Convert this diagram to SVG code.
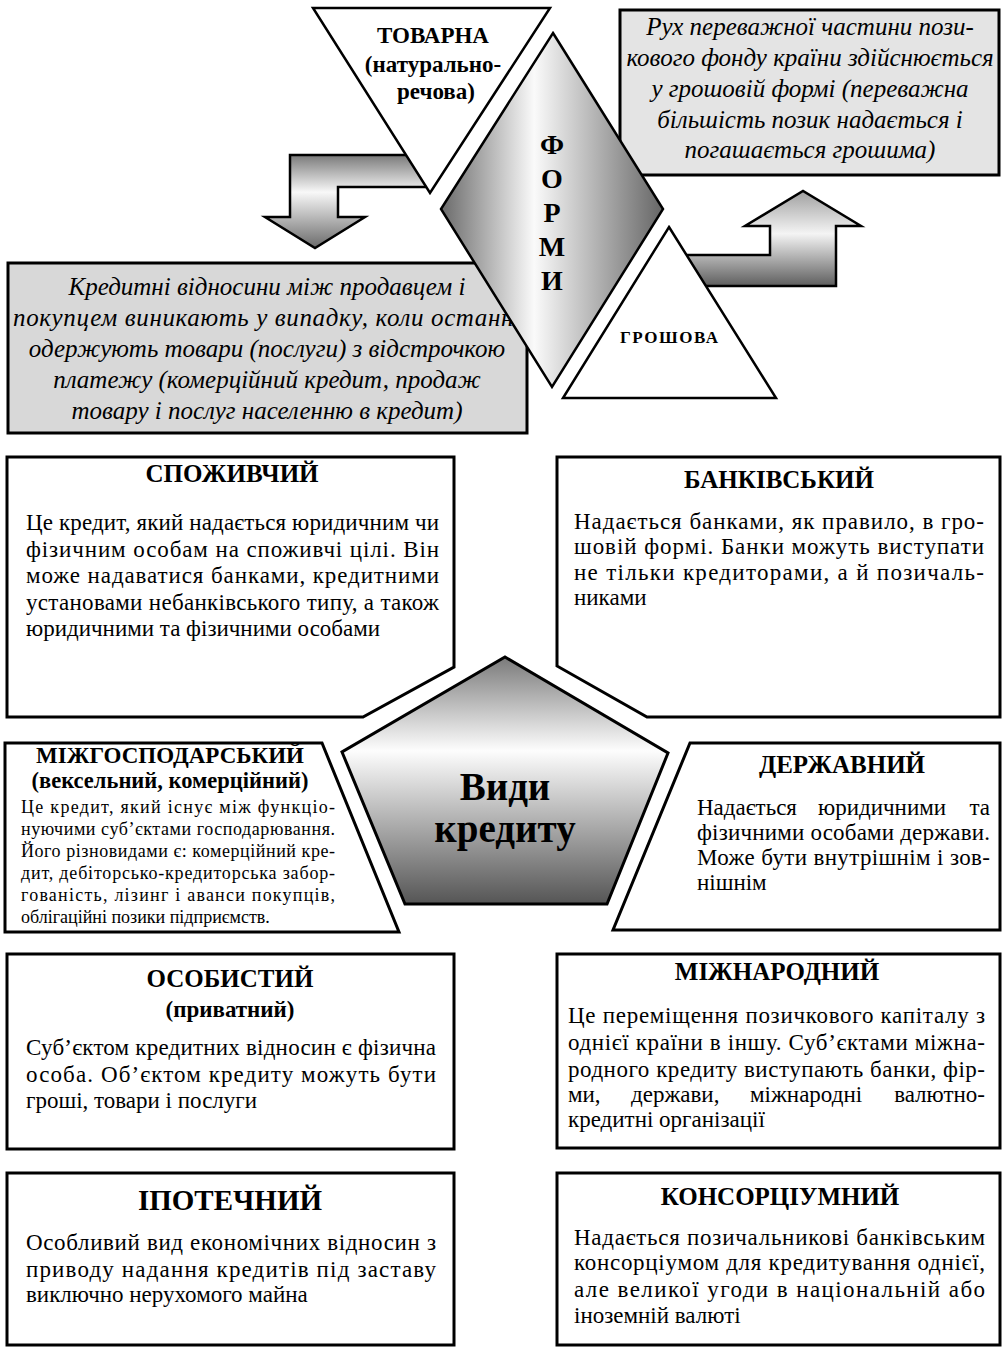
<svg xmlns="http://www.w3.org/2000/svg" width="1002" height="1351" viewBox="0 0 1002 1351">
<style>
text{font-family:"Liberation Serif","DejaVu Serif",serif;fill:#000}
.ttl{font-weight:bold;font-size:25px;text-anchor:middle}
.b{font-size:23px}
.s{font-size:18px}
.it{font-style:italic;font-size:25px;text-anchor:middle}
.box{fill:#fff;stroke:#000;stroke-width:3;stroke-linejoin:miter}
.gbox{stroke:#000;stroke-width:3}
.tri{fill:#fff;stroke:#000;stroke-width:2.5;stroke-linejoin:miter}
.arr{stroke:#000;stroke-width:2.5;stroke-linejoin:miter}
.fl{font-weight:bold;font-size:28px;text-anchor:middle}
</style>
<defs>
<linearGradient id="gDia" x1="0" y1="0" x2="1" y2="0">
<stop offset="0" stop-color="#6a6a6a"/>
<stop offset="0.42" stop-color="#fafafa"/>
<stop offset="1" stop-color="#666"/>
</linearGradient>
<linearGradient id="gArrL" x1="0" y1="0" x2="0" y2="1">
<stop offset="0" stop-color="#7a7a7a"/>
<stop offset="0.4" stop-color="#f8f8f8"/>
<stop offset="1" stop-color="#6a6a6a"/>
</linearGradient>
<linearGradient id="gArrR" x1="0" y1="0" x2="0" y2="1">
<stop offset="0" stop-color="#a0a0a0"/>
<stop offset="0.45" stop-color="#f4f4f4"/>
<stop offset="1" stop-color="#5e5e5e"/>
</linearGradient>
<linearGradient id="gPent" x1="0" y1="0" x2="0" y2="1">
<stop offset="0" stop-color="#7a7a7a"/>
<stop offset="0.38" stop-color="#fdfdfd"/>
<stop offset="1" stop-color="#555"/>
</linearGradient>
</defs>

<g id="connectors">
<path id="arrow-left" class="arr" fill="url(#gArrL)" d="M425 155 L290 155 L290 217 L265 217 L315 248 L365 217 L338 217 L338 187 L430 187 Z"/>
<path id="arrow-right" class="arr" fill="url(#gArrR)" d="M675 255 L770 255 L770 226 L745 226 L803 191 L861 226 L836 226 L836 286 L690 286 Z"/>
</g>

<g id="money-desc">
<rect class="gbox" x="620" y="10" width="379" height="165" fill="#e4e4e4"/>
<text class="it" x="810" y="35">Рух переважної частини пози-</text>
<text class="it" x="810" y="66">кового фонду країни здійснюється</text>
<text class="it" x="810" y="97">у грошовій формі (переважна</text>
<text class="it" x="810" y="128">більшість позик надається і</text>
<text class="it" x="810" y="158">погашається грошима)</text>
</g>

<g id="goods-desc">
<rect class="gbox" x="8" y="263" width="519" height="170" fill="#d8d8d8"/>
<text class="it" x="267" y="295">Кредитні відносини між продавцем і</text>
<text class="it" x="267" y="326" textLength="508" lengthAdjust="spacing">покупцем виникають у випадку, коли останні</text>
<text class="it" x="267" y="357">одержують товари (послуги) з відстрочкою</text>
<text class="it" x="267" y="388">платежу (комерційний кредит, продаж</text>
<text class="it" x="267" y="419">товару і послуг населенню в кредит)</text>
</g>

<g id="goods">
<polygon class="tri" points="313,8 550,8 430,193"/>
<text class="ttl" style="font-size:23px" x="433" y="43">ТОВАРНА</text>
<text class="ttl" style="font-size:23px" x="433" y="72">(натурально-</text>
<text class="ttl" style="font-size:23px" x="436" y="99">речова)</text>
</g>

<g id="money">
<polygon class="tri" points="669,227 776,398 563,398"/>
<text class="ttl" style="font-size:17px" x="669" y="343" textLength="98" lengthAdjust="spacing">ГРОШОВА</text>
</g>

<g id="forms">
<polygon class="tri" style="fill:url(#gDia)" points="553,33 663,209 552,387 441,209"/>
<text class="fl" x="552" y="154">Ф</text>
<text class="fl" x="552" y="188">О</text>
<text class="fl" x="552" y="222">Р</text>
<text class="fl" x="552" y="256">М</text>
<text class="fl" x="552" y="290">И</text>
</g>

<g id="consumer">
<polygon class="box" points="7,457 454,457 454,667 363,717 7,717"/>
<text class="ttl" x="232" y="482">СПОЖИВЧИЙ</text>
<text class="b" x="26" y="530" textLength="413" lengthAdjust="spacing">Це кредит, який надається юридичним чи</text>
<text class="b" x="26" y="557" textLength="413" lengthAdjust="spacing">фізичним особам на споживчі цілі. Він</text>
<text class="b" x="26" y="583" textLength="413" lengthAdjust="spacing">може надаватися банками, кредитними</text>
<text class="b" x="26" y="610" textLength="413" lengthAdjust="spacing">установами небанківського типу, а також</text>
<text class="b" x="26" y="636">юридичними та фізичними особами</text>
</g>

<g id="bank">
<polygon class="box" points="557,457 1000,457 1000,717 647,717 557,666"/>
<text class="ttl" x="779" y="488">БАНКІВСЬКИЙ</text>
<text class="b" x="574" y="529" textLength="410" lengthAdjust="spacing">Надається банками, як правило, в гро-</text>
<text class="b" x="574" y="554" textLength="410" lengthAdjust="spacing">шовій формі. Банки можуть виступати</text>
<text class="b" x="574" y="580" textLength="410" lengthAdjust="spacing">не тільки кредиторами, а й позичаль-</text>
<text class="b" x="574" y="605">никами</text>
</g>

<g id="types">
<polygon class="tri" style="fill:url(#gPent);stroke-width:3" points="505,657 668,753 607,904 405,904 342,752"/>
<text class="ttl" style="font-size:39px" x="505" y="800">Види</text>
<text class="ttl" style="font-size:39px" x="505" y="842">кредиту</text>
</g>

<g id="interfirm">
<polygon class="box" points="5,743 322,743 399,932 5,932"/>
<text class="ttl" style="font-size:23px" x="170" y="763">МІЖГОСПОДАРСЬКИЙ</text>
<text class="ttl" style="font-size:22.5px" x="170" y="788">(вексельний, комерційний)</text>
<text class="s" x="21" y="813" textLength="314" lengthAdjust="spacing">Це кредит, який існує між функціо-</text>
<text class="s" x="21" y="835" textLength="314" lengthAdjust="spacing">нуючими суб’єктами господарювання.</text>
<text class="s" x="21" y="857" textLength="314" lengthAdjust="spacing">Його різновидами є: комерційний кре-</text>
<text class="s" x="21" y="879" textLength="314" lengthAdjust="spacing">дит, дебіторсько-кредиторська забор-</text>
<text class="s" x="21" y="901" textLength="314" lengthAdjust="spacing">гованість, лізинг і аванси покупців,</text>
<text class="s" x="21" y="923">облігаційні позики підприємств.</text>
</g>

<g id="state">
<polygon class="box" points="690,743 1000,743 1000,930 613,930"/>
<text class="ttl" x="842" y="773">ДЕРЖАВНИЙ</text>
<text class="b" x="697" y="815">Надається</text>
<text class="b" x="818" y="815">юридичними</text>
<text class="b" x="990" y="815" text-anchor="end">та</text>
<text class="b" x="697" y="840" textLength="293" lengthAdjust="spacing">фізичними особами держави.</text>
<text class="b" x="697" y="865" textLength="293" lengthAdjust="spacing">Може бути внутрішнім і зов-</text>
<text class="b" x="697" y="890">нішнім</text>
</g>

<g id="personal">
<rect class="box" x="7" y="954" width="447" height="195"/>
<text class="ttl" x="230" y="987">ОСОБИСТИЙ</text>
<text class="ttl" style="font-size:23px" x="230" y="1017">(приватний)</text>
<text class="b" x="26" y="1055" textLength="410" lengthAdjust="spacing">Суб’єктом кредитних відносин є фізична</text>
<text class="b" x="26" y="1082" textLength="410" lengthAdjust="spacing">особа. Об’єктом кредиту можуть бути</text>
<text class="b" x="26" y="1108">гроші, товари і послуги</text>
</g>

<g id="international">
<rect class="box" x="557" y="954" width="443" height="194"/>
<text class="ttl" x="777" y="980">МІЖНАРОДНИЙ</text>
<text class="b" x="568" y="1023" textLength="417" lengthAdjust="spacing">Це переміщення позичкового капіталу з</text>
<text class="b" x="568" y="1050" textLength="417" lengthAdjust="spacing">однієї країни в іншу. Суб’єктами міжна-</text>
<text class="b" x="568" y="1077" textLength="417" lengthAdjust="spacing">родного кредиту виступають банки, фір-</text>
<text class="b" x="568" y="1102">ми,</text>
<text class="b" x="631" y="1102">держави,</text>
<text class="b" x="750" y="1102">міжнародні</text>
<text class="b" x="985" y="1102" text-anchor="end">валютно-</text>
<text class="b" x="568" y="1127">кредитні організації</text>
</g>

<g id="mortgage">
<rect class="box" x="7" y="1173" width="447" height="172"/>
<text class="ttl" style="font-size:29px" x="230" y="1210">ІПОТЕЧНИЙ</text>
<text class="b" x="26" y="1250" textLength="410" lengthAdjust="spacing">Особливий вид економічних відносин з</text>
<text class="b" x="26" y="1277" textLength="410" lengthAdjust="spacing">приводу надання кредитів під заставу</text>
<text class="b" x="26" y="1302">виключно нерухомого майна</text>
</g>

<g id="consortium">
<rect class="box" x="557" y="1173" width="443" height="172"/>
<text class="ttl" x="780" y="1205">КОНСОРЦІУМНИЙ</text>
<text class="b" x="574" y="1245" textLength="411" lengthAdjust="spacing">Надається позичальникові банківським</text>
<text class="b" x="574" y="1270" textLength="411" lengthAdjust="spacing">консорціумом для кредитування однієї,</text>
<text class="b" x="574" y="1297" textLength="411" lengthAdjust="spacing">але великої угоди в національній або</text>
<text class="b" x="574" y="1323">іноземній валюті</text>
</g>
</svg>
